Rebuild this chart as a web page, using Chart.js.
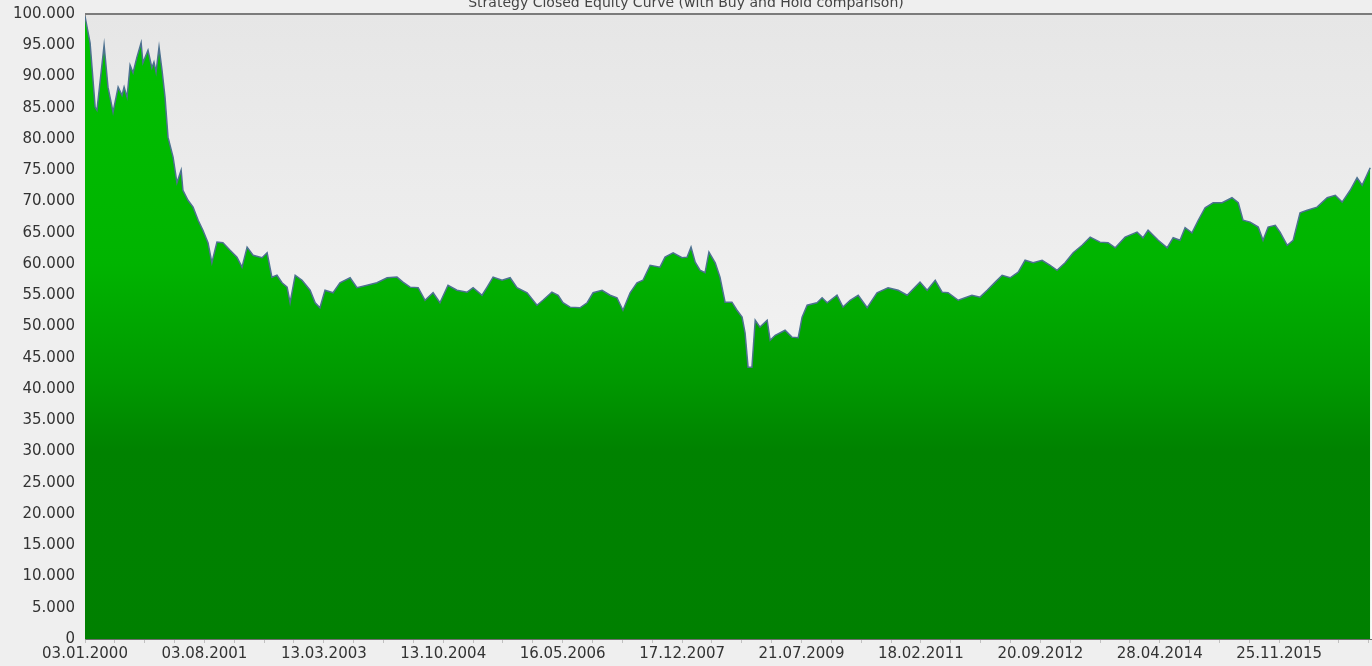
<!DOCTYPE html>
<html>
<head>
<meta charset="utf-8">
<script src="https://cdn.jsdelivr.net/npm/chart.js@4"></script>
<style>
  html, body { margin: 0; padding: 0; background: #efefef; overflow: hidden; }
  #wrap { position: relative; width: 1372px; height: 680px; margin-top: -14px; }
</style>
</head>
<body>
<div id="wrap"><canvas id="myChart"></canvas></div>
<script>
// trading days since 03.01.2000
const days = [0,17,34,40,64,77,94,111,124,131,141,151,161,174,188,194,211,224,231,238,248,258,268,278,295,308,322,328,345,362,379,395,412,425,442,462,486,509,526,543,563,593,610,626,643,660,677,687,704,727,754,771,787,804,831,854,888,911,945,978,1012,1045,1065,1089,1116,1139,1166,1189,1216,1246,1280,1300,1330,1347,1367,1397,1424,1447,1481,1514,1534,1564,1585,1601,1625,1658,1682,1702,1732,1759,1782,1802,1826,1849,1869,1893,1926,1943,1970,2000,2017,2030,2044,2060,2077,2090,2111,2127,2144,2167,2184,2201,2211,2221,2234,2245,2261,2285,2295,2312,2345,2368,2389,2402,2419,2452,2469,2486,2519,2539,2563,2590,2620,2653,2690,2724,2754,2797,2821,2848,2871,2891,2925,2948,2971,2998,3022,3049,3072,3099,3126,3149,3176,3206,3233,3256,3283,3310,3340,3367,3400,3427,3451,3484,3524,3544,3561,3595,3625,3645,3668,3685,3708,3729,3752,3779,3809,3842,3863,3879,3903,3930,3946,3963,3987,4003,4027,4047,4070,4094,4127,4161,4188,4211,4238,4261,4278,4305];
// closed equity, thousands
const equity = [99.6,95.4,85.1,84.6,95.0,88.3,84.3,88.3,87.0,88.3,86.7,91.8,90.6,93.1,95.4,92.2,94.2,91.4,92.3,90.7,94.7,91.0,86.7,80.3,77.1,73.0,75.0,71.8,70.2,69.1,67.0,65.4,63.4,60.2,63.5,63.4,62.2,61.1,59.5,62.7,61.4,61.0,61.8,57.9,58.2,57.0,56.3,53.8,58.2,57.4,55.8,53.8,53.0,55.8,55.4,57.0,57.8,56.2,56.6,57.0,57.8,57.9,57.1,56.3,56.2,54.2,55.4,53.8,56.6,55.8,55.5,56.2,55.0,56.3,57.9,57.4,57.8,56.2,55.4,53.4,54.2,55.5,55.0,53.8,53.1,53.0,53.8,55.4,55.8,55.0,54.6,52.6,55.4,57.0,57.4,59.8,59.5,61.1,61.8,61.0,61.1,62.7,60.3,59.0,58.6,61.9,60.2,57.9,53.9,53.9,52.6,51.5,49.0,43.5,43.5,51.0,49.9,51.0,47.8,48.6,49.4,48.3,48.2,51.5,53.4,53.8,54.6,53.8,55.0,53.1,54.2,55.0,53.0,55.4,56.2,55.8,55.0,57.1,55.8,57.4,55.5,55.4,54.2,54.6,55.0,54.7,55.8,57.1,58.2,57.8,58.7,60.6,60.2,60.6,59.8,59.0,60.2,61.8,63.0,64.3,63.5,63.4,62.6,64.3,65.1,64.2,65.4,63.8,62.6,64.2,63.8,65.8,65.0,67.0,69.0,69.8,69.8,70.6,69.8,67.0,66.7,65.9,63.8,65.9,66.2,65.1,63.0,63.8,68.2,68.6,69.1,70.6,71.0,69.9,71.8,73.8,72.6,75.4];
const tickLabels = ["03.01.2000","03.08.2001","13.03.2003","13.10.2004","16.05.2006","17.12.2007","21.07.2009","18.02.2011","20.09.2012","28.04.2014","25.11.2015"];
const lastDay = 4311;

const points = days.map((d, i) => ({x: d, y: equity[i] * 1000}));

const plotBg = {
  id: 'plotBg',
  beforeDraw(chart) {
    const {ctx, chartArea: a} = chart;
    const g = ctx.createLinearGradient(0, a.top, 0, a.bottom);
    g.addColorStop(0, '#e6e6e6');
    g.addColorStop(1, '#fbfbfb');
    ctx.save();
    ctx.fillStyle = g;
    ctx.fillRect(a.left, a.top, a.right - a.left, a.bottom - a.top);
    ctx.restore();
  },
  afterDraw(chart) {
    const {ctx, chartArea: a} = chart;
    ctx.save();
    ctx.strokeStyle = '#7b7b7b';
    ctx.lineWidth = 2;
    ctx.beginPath();
    ctx.moveTo(a.left, a.top);
    ctx.lineTo(a.right, a.top);
    ctx.stroke();
    ctx.restore();
  }
};

function greenFill(c) {
  const a = c.chart.chartArea;
  if (!a) return '#009000';
  const g = c.chart.ctx.createLinearGradient(0, a.top, 0, a.bottom);
  g.addColorStop(0, '#00c000');
  g.addColorStop(0.4, '#00b400');
  g.addColorStop(0.58, '#009a00');
  g.addColorStop(0.7, '#008200');
  g.addColorStop(1, '#008000');
  return g;
}

const ctx = document.getElementById('myChart');
new Chart(ctx, {
  type: 'line',
  data: {
    datasets: [{
      label: 'Closed Equity',
      data: points,
      borderColor: '#4d7190',
      borderWidth: 1.5,
      backgroundColor: greenFill,
      fill: 'origin',
      pointRadius: 0,
      tension: 0
    }]
  },
  plugins: [plotBg],
  options: {
    responsive: true,
    maintainAspectRatio: false,
    animation: false,
    layout: { padding: 0 },
    plugins: {
      legend: { display: false },
      tooltip: { enabled: false },
      title: {
        display: true,
        text: 'Strategy Closed Equity Curve (with Buy and Hold comparison)',
        color: '#444',
        font: { family: 'DejaVu Sans', size: 14, weight: 'normal', lineHeight: 1 },
        padding: { top: 10, bottom: 4 }
      }
    },
    scales: {
      x: {
        type: 'linear',
        min: 0,
        max: lastDay,
        afterFit(s) { s.height = 27; },
        border: { color: '#6f6f6f', width: 1 },
        grid: { drawOnChartArea: false, tickLength: 4, color: '#c0c0c0' },
        ticks: {
          stepSize: 100,
          includeBounds: false,
          autoSkip: false,
          maxRotation: 0,
          padding: 2,
          color: '#333',
          font: { family: 'DejaVu Sans', size: 15 },
          callback: v => (v % 400 === 0 ? (tickLabels[v / 400] || '') : '')
        }
      },
      y: {
        min: 0,
        max: 100000,
        afterFit(s) { s.width = 85; },
        border: { color: '#8a8a8a', width: 1 },
        grid: { display: false },
        ticks: {
          stepSize: 5000,
          padding: 2,
          color: '#333',
          font: { family: 'DejaVu Sans', size: 15 },
          callback: v => (v === 0 ? '0' : (v / 1000).toFixed(3))
        }
      }
    }
  }
});
</script>
</body>
</html>
